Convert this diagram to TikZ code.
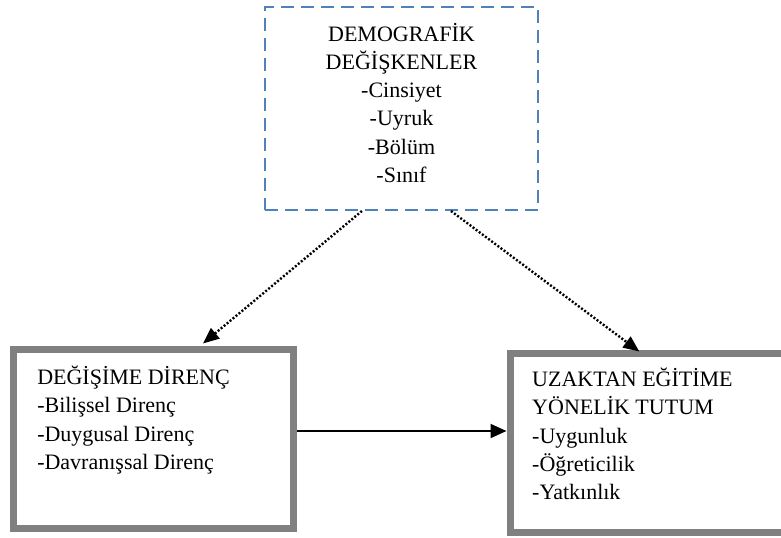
\documentclass[tikz,border=0pt]{standalone}
\usepackage{fontspec}
\setmainfont{Liberation Serif}
\usetikzlibrary{arrows.meta, positioning, calc}

\definecolor{dashblue}{HTML}{4F81BD}
\definecolor{framegray}{HTML}{808080}

\begin{document}
\begin{tikzpicture}[
      x=0.75pt, y=-0.75pt,
      demobox/.style={draw=dashblue, line width=1.5pt, dash pattern=on 9.75pt off 5.25pt,
        minimum width=204.75pt, minimum height=152.25pt, inner sep=0pt},
      factorbox/.style={draw=framegray, line width=5.25pt, inner sep=0pt},
      boxtext/.style={inner sep=0pt, font=\fontsize{16.5}{21.2}\selectfont},
      dotarrow/.style={line width=1.8pt, dash pattern=on 1.5pt off 1.4pt,
        -{Triangle[length=12pt, width=10pt]}},
      mainarrow/.style={line width=1.5pt, -{Triangle[length=12pt, width=10.5pt]}}
    ]
      \useasboundingbox (0,0) rectangle (781,537);

      % boxes
      \node[demobox] (demo) at (401.5,108.5) {};
      \node[factorbox, minimum width=210pt, minimum height=134.25pt] (resist) at (153.5,439) {};
      \node[factorbox, minimum width=255pt, minimum height=134.6pt] (attitude) at (680,442.75) {};

      % texts
      \node[boxtext, align=center, below=12.5pt of demo.north] (demotext)
        {DEMOGRAFİK\\DEĞİŞKENLER\\-Cinsiyet\\-Uyruk\\-Bölüm\\-Sınıf};
      \node[boxtext, align=left, below right=14.7pt and 20.25pt of resist.north west] (resisttext)
        {DEĞİŞİME DİRENÇ\\-Bilişsel Direnç\\-Duygusal Direnç\\-Davranışsal Direnç};
      \node[boxtext, align=left, below right=13.6pt and 19.1pt of attitude.north west] (attitudetext)
        {UZAKTAN EĞİTİME\\YÖNELİK TUTUM\\-Uygunluk\\-Öğreticilik\\-Yatkınlık};

      % arrows
      \draw[dotarrow, shorten >=3pt] ($(demo.south west)!0.356!(demo.south east)$)
        -- ($(resist.north west)!0.662!(resist.north east)$);
      \draw[dotarrow, shorten >=-2.5pt] ($(demo.south west)!0.68!(demo.south east)$)
        -- ($(attitude.north west)!0.375!(attitude.north east)$);
      \draw[mainarrow] ([yshift=6pt]resist.east) -- ([yshift=6pt]resist.east -| attitude.west);
    \end{tikzpicture}
\end{document}
